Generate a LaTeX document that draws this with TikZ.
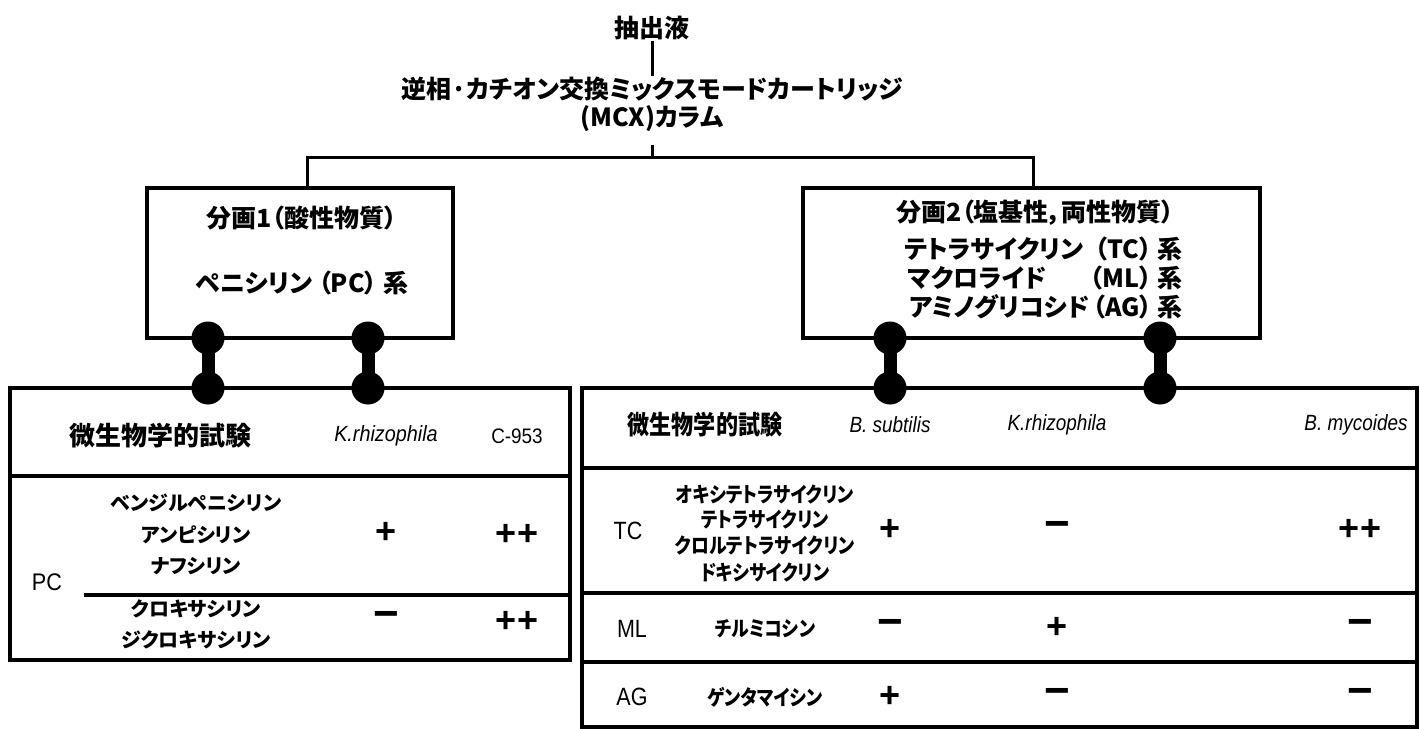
\documentclass[tikz,border=0pt]{standalone}
\usepackage{fontspec}
\setmainfont{Liberation Sans}[FakeStretch=0.9]
\newfontfamily\signf{Liberation Sans}
\newfontfamily\latc{Liberation Sans}[FakeStretch=0.86]
\newfontfamily\jp{Noto Sans CJK JP}[RawFeature=+palt]
\newfontfamily\jpc{Noto Sans CJK JP}[RawFeature=+palt, FakeStretch=0.85]
\begin{document}
\begin{tikzpicture}[x=1pt,y=-1pt,
  big/.style={font=\jp\bfseries\fontsize{25}{29}\selectfont, inner sep=1pt},
  head/.style={font=\jp\bfseries\fontsize{26}{30}\selectfont, inner sep=1pt},
  headc/.style={font=\jpc\bfseries\fontsize{26}{30}\selectfont, inner sep=1pt},
  drug/.style={font=\jp\bfseries\fontsize{20}{23}\selectfont, inner sep=1pt},
  drugc/.style={font=\jpc\bfseries\fontsize{21}{24}\selectfont, inner sep=1pt},
  lat/.style={font=\fontsize{24}{28}\selectfont, inner sep=1pt},
  latr/.style={font=\latc\fontsize{25}{28}\selectfont, inner sep=1pt},
  spec/.style={font=\itshape\fontsize{22}{26}\selectfont, inner sep=1pt},
  specr/.style={font=\latc\itshape\fontsize{22}{26}\selectfont, inner sep=1pt},
  plus/.style={font=\signf\bfseries\fontsize{36}{38}\selectfont, inner sep=1pt},
  minus/.style={font=\signf\bfseries\fontsize{44}{46}\selectfont, inner sep=1pt},
  frame/.style={draw, line width=4.5pt, inner sep=0pt},
  conn/.style={line width=3pt},
  sep/.style={line width=3.5pt},
  ball/.style={circle, fill=black, minimum size=33pt, inner sep=0pt},
  neck/.style={line width=13pt}]
\useasboundingbox (0,0) rectangle (1420,728);

% top
\node[big] (src) at (652,28) {抽出液};
\node[big] (col1) at (652,89) {逆相·カチオン交換ミックスモードカートリッジ};
\node[big] (col2) at (652,119) {(MCX)カラム};
\draw[conn] (src.south) -- (col1.north);
\coordinate (j) at (652,157);
\coordinate (jt) at (652,145);
\draw[conn] (jt) -- (j);

% fraction boxes
\node[frame, minimum width=306pt, minimum height=150pt] (b1) at (300,263) {};
\node[frame, minimum width=457pt, minimum height=150pt] (b2) at (1031.5,263) {};
\coordinate (hl) at (307,157);
\coordinate (hr) at (1033,157);
\draw[conn] (b1.north -| hl) -- (hl) -- (hr) -- (b2.north -| hr);

\node[big] (b1a) at (302,218) {分画1（酸性物質）};
\node[big] (b1b) at (302,283) {ペニシリン （PC） 系};

\node[big] (b2a) at (1035,213) {分画2（塩基性，両性物質）};
\node[big, anchor=west] (b2b) at (903,249) {テトラサイクリン};
\node[big, anchor=east] (b2bb) at (1184,249) {（TC） 系};
\node[big, anchor=west] (b2c) at (907,278) {マクロライド};
\node[big, anchor=east] (b2cc) at (1184,278) {（ML） 系};
\node[big, anchor=west] (b2d) at (908,307) {アミノグリコシド};
\node[big, anchor=east] (b2dd) at (1184,307) {（AG） 系};

% tables
\node[frame, minimum width=560pt, minimum height=272pt] (t1) at (290,524) {};
\node[frame, minimum width=835pt, minimum height=339pt] (t2) at (999.5,557.5) {};

% dumbbells
\foreach \n/\x in {a/208, b/368, c/890, d/1160}{
  \node[ball] (u\n) at (\x,338) {};
  \node[ball] (l\n) at (\x,388) {};
  \draw[neck] (u\n.center) -- (l\n.center);
}

% left table
\coordinate (s1a) at (10,476);
\coordinate (s1b) at (84,595);
\draw[sep] (s1a) -- (s1a -| t1.east);
\draw[sep] (s1b) -- (s1b -| t1.east);
\node[head] (h1) at (160,436) {微生物学的試験};
\node[spec] (h2) at (386,436) {K.rhizophila};
\node[lat, font=\fontsize{21}{24}\selectfont] (h3) at (517,436) {C-953};
\node[drug] (d1) at (196,503) {ベンジルペニシリン};
\node[drug] (d2) at (196,535) {アンピシリン};
\node[drug] (d3) at (196,566) {ナフシリン};
\node[drug] (d4) at (196,609) {クロキサシリン};
\node[drug] (d5) at (196,640) {ジクロキサシリン};
\node[lat] (pc) at (47,582) {PC};
\node[plus] (v1) at (386,533) {+};
\node[plus] (v2) at (517,535) {++};
\node[minus] (v3) at (386,620) {−};
\node[plus] (v4) at (517,622) {++};

% right table
\coordinate (s2a) at (582,468);
\coordinate (s2b) at (582,593);
\coordinate (s2c) at (582,662);
\draw[sep] (s2a) -- (s2a -| t2.east);
\draw[sep] (s2b) -- (s2b -| t2.east);
\draw[sep] (s2c) -- (s2c -| t2.east);
\node[headc] (r1) at (705,425) {微生物学的試験};
\node[specr] (r2) at (890,425) {B. subtilis};
\node[specr] (r3) at (1057,425) {K.rhizophila};
\node[specr] (r4) at (1356,425) {B. mycoides};
\node[latr] (tc) at (628,531) {TC};
\node[drugc] (e1) at (765,494) {オキシテトラサイクリン};
\node[drugc] (e2) at (765,519) {テトラサイクリン};
\node[drugc] (e3) at (765,545) {クロルテトラサイクリン};
\node[drugc] (e4) at (765,572) {ドキシサイクリン};
\node[plus] (w1) at (890,530) {+};
\node[minus] (w2) at (1057,530) {−};
\node[plus] (w3) at (1360,530) {++};
\node[latr] (ml) at (632,629) {ML};
\node[drugc] (e5) at (765,629) {チルミコシン};
\node[minus] (w4) at (890,628) {−};
\node[plus] (w5) at (1057,628) {+};
\node[minus] (w6) at (1360,628) {−};
\node[latr] (ag) at (632,697) {AG};
\node[drugc] (e6) at (765,697) {ゲンタマイシン};
\node[plus] (w7) at (890,697) {+};
\node[minus] (w8) at (1057,697) {−};
\node[minus] (w9) at (1360,697) {−};
\end{tikzpicture}
\end{document}
